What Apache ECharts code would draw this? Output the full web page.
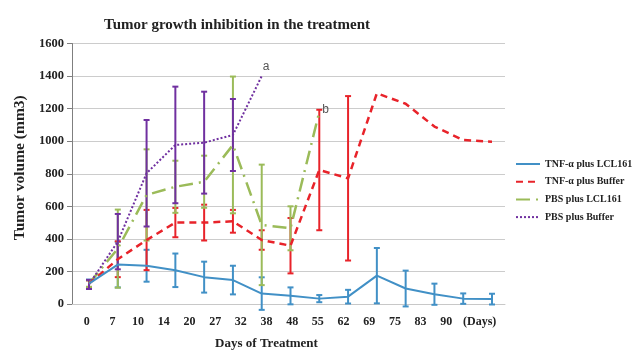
<!DOCTYPE html>
<html>
<head>
<meta charset="utf-8">
<script src="https://cdn.jsdelivr.net/npm/echarts@6/dist/echarts.min.js"></script>
<style>
  html, body { margin: 0; padding: 0; background: #fff; }
  #chart { width: 643px; height: 350px; }
</style>
</head>
<body>
<div id="chart"></div>
<script>
// Treatment days (category labels)
const days = ['0', '7', '10', '14', '20', '27', '32', '38', '48', '55', '62', '69', '75', '83', '90'];

// Mean tumor volume (mm3) and standard deviation per group
const tnfLcl161Mean = [125, 242, 235, 207, 165, 147, 64, 50, 33, 45, 174, 95, 60, 33, 30];
const tnfLcl161Sd   = [25, 140, 98, 103, 95, 88, 100, 52, 22, 42, 170, 110, 65, 32, 33];

const tnfBufferMean = [125, 275, 393, 500, 500, 508, 393, 358, 823, 772, 1294, 1230, 1090, 1007, 997];
const tnfBufferSd   = [20, 110, 185, 90, 110, 70, 60, 170, 370, 505, null, null, null, null, null];

const pbsLcl161Mean = [125, 340, 670, 720, 751, 977, 486, 465, 1180];
const pbsLcl161Sd   = [20, 240, 280, 160, 160, 420, 370, 135, null];

const pbsBufferMean = [120, 383, 803, 977, 991, 1038, 1400];
const pbsBufferSd   = [28, 170, 327, 358, 313, 221, null];

// Y axis ticks
const yTicks = { min: 0, max: 1600, interval: 200 };

const COLORS = {
  tnfLcl161: '#4190c6',
  tnfBuffer: '#e8232a',
  pbsLcl161: '#9bbb59',
  pbsBuffer: '#7030a0'
};

const SERIF = '"Liberation Serif", "Times New Roman", serif';

function linePoints(means) {
  return means.map((v, i) => [i, v]);
}
function errorPoints(means, sds) {
  const out = [];
  means.forEach((m, i) => {
    const s = sds[i];
    if (s != null) out.push([i, m - s, m + s]);
  });
  return out;
}

function errorBarSeries(means, sds, color, z) {
  return {
    type: 'custom',
    xAxisIndex: 0,
    yAxisIndex: 0,
    z: z,
    silent: true,
    clip: false,
    data: errorPoints(means, sds),
    encode: { x: 0, y: [1, 2] },
    renderItem: function (params, api) {
      const x = api.value(0);
      const top = api.coord([x, api.value(2)]);
      const bot = api.coord([x, api.value(1)]);
      const cap = 3;
      const style = { stroke: color, lineWidth: 2 };
      return {
        type: 'group',
        children: [
          { type: 'line', shape: { x1: top[0], y1: top[1], x2: bot[0], y2: bot[1] }, style: style },
          { type: 'line', shape: { x1: top[0] - cap, y1: top[1], x2: top[0] + cap, y2: top[1] }, style: style },
          { type: 'line', shape: { x1: bot[0] - cap, y1: bot[1], x2: bot[0] + cap, y2: bot[1] }, style: style }
        ]
      };
    }
  };
}

const chart = echarts.init(document.getElementById('chart'), null, { renderer: 'canvas' });

const option = {
  animation: false,
  backgroundColor: '#ffffff',
  title: {
    text: 'Tumor growth inhibition in the treatment',
    left: 232,
    top: 13,
    textAlign: 'center',
    textStyle: { fontFamily: SERIF, fontWeight: 'bold', fontSize: 15, color: '#222' }
  },
  legend: {
    orient: 'vertical',
    left: 515,
    top: 159,
    padding: 0,
    itemWidth: 24,
    itemHeight: 10,
    itemGap: 7.7,
    itemStyle: { opacity: 0 },
    textStyle: { fontFamily: SERIF, fontWeight: 'bold', fontSize: 10, color: '#222' },
    data: ['TNF-α plus LCL161', 'TNF-α plus Buffer', 'PBS plus LCL161', 'PBS plus Buffer']
  },
  grid: [
    { left: 72, right: 138, top: 43.5, bottom: 46, outerBoundsMode: 'none' },
    // label-only grid for the day ticks
    { left: 86.7, right: 196.7, top: 43.5, bottom: 46, outerBoundsMode: 'none' }
  ],
  xAxis: [
    {
      type: 'value',
      gridIndex: 0,
      min: -0.5906,
      max: 14.4516,
      axisLine: { show: true, onZero: false, lineStyle: { color: '#c8c8c8', width: 1 } },
      axisTick: { show: false },
      axisLabel: { show: false },
      splitLine: { show: false }
    },
    {
      type: 'category',
      gridIndex: 1,
      data: days,
      boundaryGap: false,
      axisLine: { show: false, onZero: false },
      axisTick: { show: false },
      axisLabel: { margin: 12, fontFamily: SERIF, fontWeight: 'bold', fontSize: 12, color: '#222' },
      name: 'Days of Treatment',
      nameLocation: 'middle',
      nameGap: 33.5,
      nameTextStyle: { fontFamily: SERIF, fontWeight: 'bold', fontSize: 13, color: '#222' }
    }
  ],
  yAxis: [
    {
      type: 'value',
      gridIndex: 0,
      min: yTicks.min,
      max: yTicks.max,
      interval: yTicks.interval,
      axisLine: { show: true, onZero: false, lineStyle: { color: '#7f7f7f', width: 1 } },
      axisTick: { show: true, length: 5, lineStyle: { color: '#7f7f7f' } },
      axisLabel: {
        margin: 8, fontFamily: SERIF, fontWeight: 'bold', fontSize: 12.5, color: '#222',
        formatter: function (v) { return String(v); }
      },
      splitLine: { show: true, lineStyle: { color: '#cccccc', width: 1 } },
      name: 'Tumor volume (mm3)',
      nameLocation: 'middle',
      nameGap: 43,
      nameTextStyle: {
        fontFamily: SERIF, fontWeight: 'bold', fontSize: 15.5, color: '#222',
        padding: [0, 0, 0, 12]
      }
    },
    {
      type: 'value',
      gridIndex: 1,
      min: yTicks.min,
      max: yTicks.max,
      show: false
    }
  ],
  graphic: [
    {
      type: 'text',
      left: 463,
      top: 316,
      style: { text: '(Days)', fontFamily: SERIF, fontWeight: 'bold', fontSize: 12, fill: '#222' }
    }
  ],
  series: [
    {
      name: 'TNF-α plus LCL161',
      type: 'line',
      xAxisIndex: 0, yAxisIndex: 0,
      data: linePoints(tnfLcl161Mean),
      symbol: 'none',
      color: COLORS.tnfLcl161,
      lineStyle: { width: 2, color: COLORS.tnfLcl161 },
      z: 6
    },
    {
      name: 'TNF-α plus Buffer',
      type: 'line',
      xAxisIndex: 0, yAxisIndex: 0,
      data: linePoints(tnfBufferMean),
      symbol: 'none',
      color: COLORS.tnfBuffer,
      lineStyle: { width: 2.5, type: [7, 5], color: COLORS.tnfBuffer },
      z: 5
    },
    {
      name: 'PBS plus LCL161',
      type: 'line',
      xAxisIndex: 0, yAxisIndex: 0,
      data: linePoints(pbsLcl161Mean),
      symbol: 'none',
      color: COLORS.pbsLcl161,
      lineStyle: { width: 2.5, type: [14, 6, 2, 6], color: COLORS.pbsLcl161 },
      endLabel: {
        show: true, formatter: 'b', distance: 3, offset: [0, -2],
        fontFamily: '"Liberation Sans", Arial, sans-serif', fontSize: 12, color: '#555'
      },
      z: 4
    },
    {
      name: 'PBS plus Buffer',
      type: 'line',
      xAxisIndex: 0, yAxisIndex: 0,
      data: linePoints(pbsBufferMean),
      symbol: 'none',
      color: COLORS.pbsBuffer,
      lineStyle: { width: 2, type: [2, 2], color: COLORS.pbsBuffer },
      endLabel: {
        show: true, formatter: 'a', distance: 1, offset: [0, -9],
        fontFamily: '"Liberation Sans", Arial, sans-serif', fontSize: 12, color: '#555'
      },
      z: 4
    },
    errorBarSeries(tnfLcl161Mean, tnfLcl161Sd, COLORS.tnfLcl161, 3),
    errorBarSeries(tnfBufferMean, tnfBufferSd, COLORS.tnfBuffer, 3),
    errorBarSeries(pbsLcl161Mean, pbsLcl161Sd, COLORS.pbsLcl161, 3),
    errorBarSeries(pbsBufferMean, pbsBufferSd, COLORS.pbsBuffer, 3)
  ]
};

chart.setOption(option);
</script>
</body>
</html>
